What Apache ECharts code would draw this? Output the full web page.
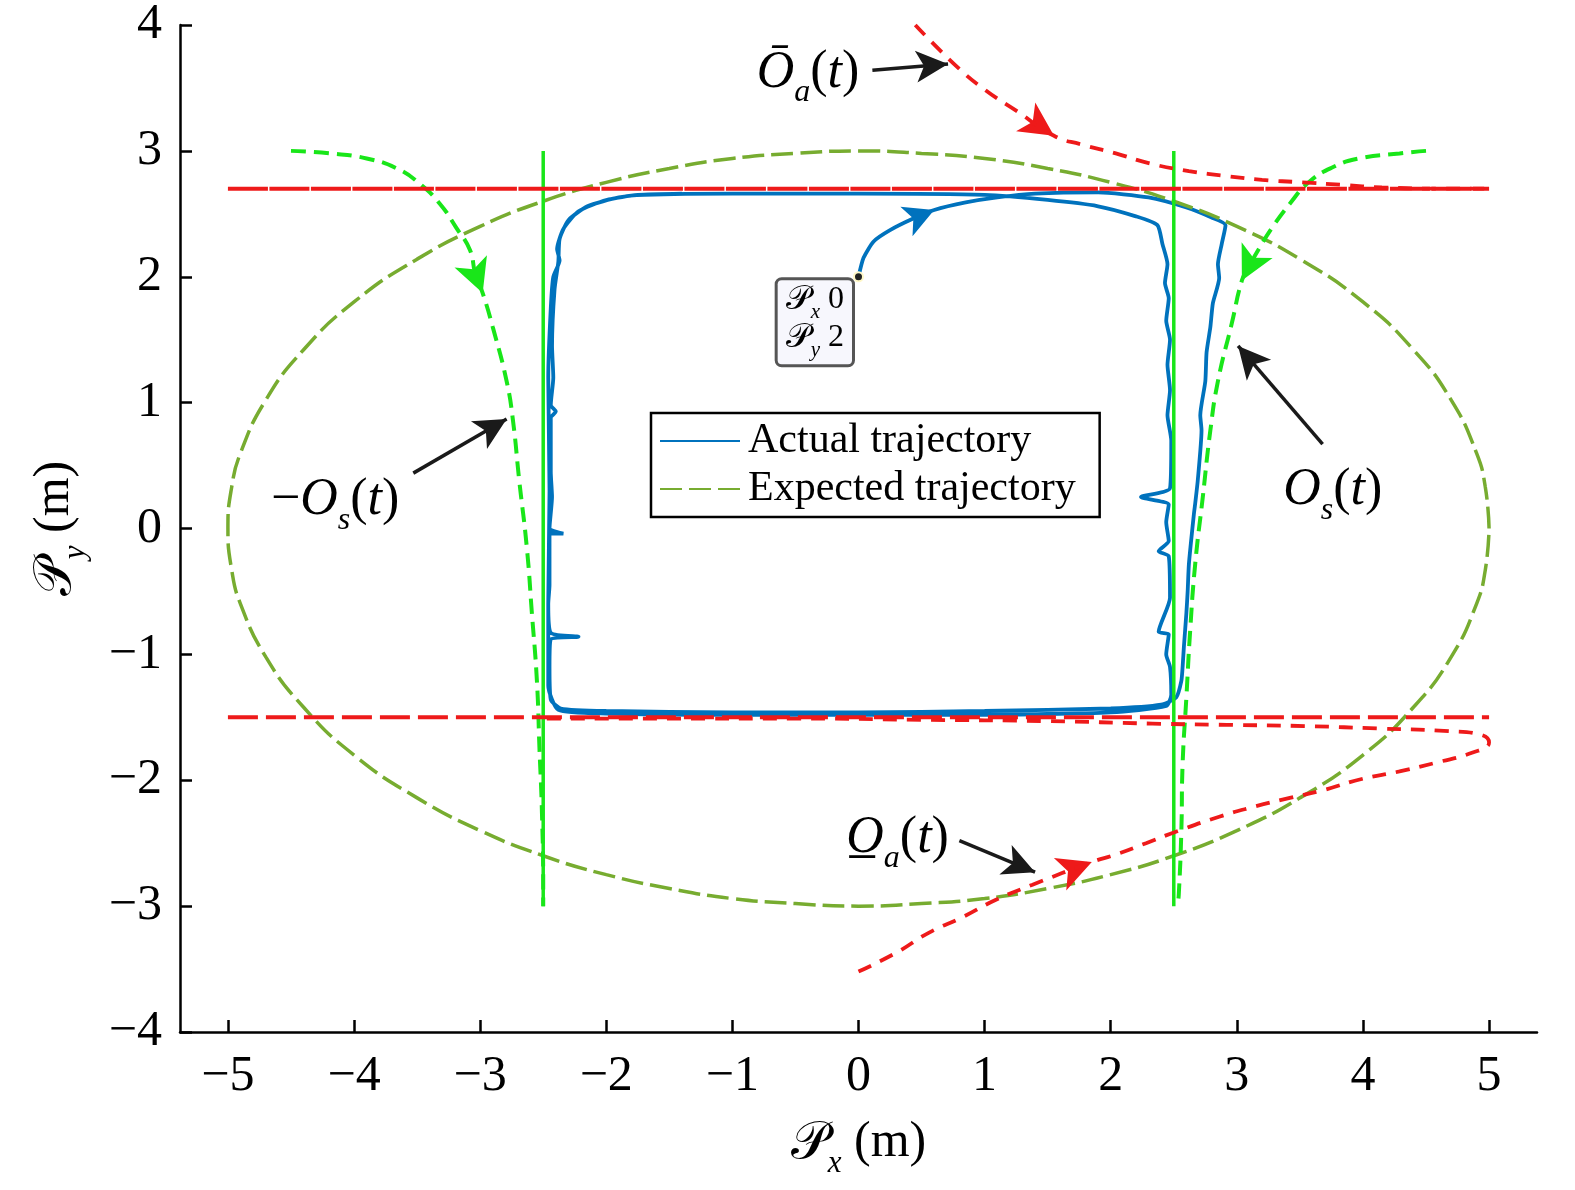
<!DOCTYPE html>
<html>
<head>
<meta charset="utf-8">
<title>Trajectory</title>
<script src="https://cdn.jsdelivr.net/npm/echarts@6/dist/echarts.min.js"></script>
<style>
html, body { margin: 0; padding: 0; background: #fff; }
#container { width: 1575px; height: 1190px; }
</style>
</head>
<body>
<div id="container"></div>
<script>
// tick values
var xTicks = [-5, -4, -3, -2, -1, 0, 1, 2, 3, 4, 5];
var yTicks = [-4, -3, -2, -1, 0, 1, 2, 3, 4];

// expected trajectory (ellipse)
var expected = [
    [5, 0], [4.97, 0.33], [4.9, 0.6], [4.7, 1.02], [4.4, 1.42], [4, 1.8], [3.5, 2.14], [3, 2.4],
    [2.5, 2.6], [2, 2.75], [1.5, 2.86], [1, 2.94], [0.5, 2.98], [0, 3],
    [-0.5, 2.98], [-1, 2.94], [-1.5, 2.86], [-2, 2.75], [-2.5, 2.6], [-3, 2.4], [-3.5, 2.14],
    [-4, 1.8], [-4.4, 1.42], [-4.7, 1.02], [-4.9, 0.6], [-4.97, 0.33], [-5, 0],
    [-4.97, -0.33], [-4.9, -0.6], [-4.7, -1.02], [-4.4, -1.42], [-4, -1.8], [-3.5, -2.14], [-3, -2.4],
    [-2.5, -2.6], [-2, -2.75], [-1.5, -2.86], [-1, -2.94], [-0.5, -2.98], [0, -3],
    [0.5, -2.98], [1, -2.94], [1.5, -2.86], [2, -2.75], [2.5, -2.6], [3, -2.4], [3.5, -2.14],
    [4, -1.8], [4.4, -1.42], [4.7, -1.02], [4.9, -0.6], [4.97, -0.33], [5, 0]
];

// actual trajectory (two laps)
var actual = [
    [0, 2.0], [0.04, 2.15], [0.12, 2.28], [0.25, 2.37], [0.43, 2.46], [0.6, 2.53], [0.85, 2.59], [1.1, 2.63],
    [1.4, 2.66], [1.9, 2.67], [2.3, 2.63], [2.6, 2.55], [2.8, 2.47], [2.91, 2.41],
    [2.88, 2.26], [2.85, 2.1], [2.86, 1.99], [2.81, 1.79], [2.79, 1.6], [2.76, 1.4], [2.75, 1.17], [2.71, 0.9],
    [2.72, 0.78], [2.69, 0.38], [2.67, 0.2], [2.66, 0.12], [2.62, -0.28], [2.61, -0.5], [2.6, -0.67],
    [2.58, -0.94], [2.57, -1.1], [2.56, -1.21], [2.52, -1.34],
    [2.4, -1.4], [2.0, -1.43], [1.0, -1.45], [0, -1.46], [-1.0, -1.46], [-2.0, -1.45], [-2.36, -1.43], [-2.44, -1.36],
    [-2.45, -1.1], [-2.44, -0.88], [-2.22, -0.86], [-2.44, -0.83], [-2.46, -0.6], [-2.45, -0.45], [-2.45, -0.04],
    [-2.34, -0.04], [-2.45, 0.0], [-2.43, 0.25], [-2.44, 0.45], [-2.44, 0.88], [-2.4, 0.93], [-2.44, 0.98],
    [-2.42, 1.2], [-2.43, 1.45], [-2.41, 1.9], [-2.38, 2.12], [-2.37, 2.3], [-2.3, 2.45], [-2.15, 2.56],
    [-1.9, 2.63], [-1.7, 2.65],
    [-1.0, 2.66], [0, 2.66], [1.0, 2.65], [1.5, 2.61], [1.9, 2.56], [2.2, 2.48], [2.37, 2.41],
    [2.41, 2.26], [2.45, 2.1], [2.43, 1.95], [2.46, 1.83], [2.44, 1.65], [2.47, 1.5], [2.45, 1.3], [2.47, 1.1],
    [2.45, 0.9], [2.48, 0.7], [2.47, 0.32], [2.24, 0.25], [2.46, 0.19], [2.44, 0.05], [2.46, -0.1],
    [2.38, -0.18], [2.46, -0.22], [2.47, -0.55], [2.38, -0.82], [2.46, -0.84], [2.44, -1.0], [2.47, -1.1],
    [2.48, -1.32], [2.44, -1.41],
    [2.0, -1.46], [1.0, -1.48], [0, -1.48], [-1.0, -1.48], [-2.0, -1.47], [-2.38, -1.44],
    [-2.46, -1.25], [-2.46, -0.6], [-2.45, 0.3], [-2.46, 1.2], [-2.44, 1.75], [-2.42, 2.0], [-2.37, 2.13],
    [-2.39, 2.22], [-2.34, 2.38], [-2.22, 2.52], [-2.0, 2.61], [-1.75, 2.65], [-1.4, 2.66]
];

// bounds and limits
var boundLeft = [[-2.5, -3], [-2.5, 3]];
var boundRight = [[2.5, -3], [2.5, 3]];
var limitTop = [[-5, 2.7], [5, 2.7]];
var limitBottom = [[-5, -1.5], [5, -1.5]];

// -Os(t) and Os(t)
var obsLeft = [
    [-4.5, 3.0], [-4.19, 2.98], [-3.9, 2.94], [-3.66, 2.86], [-3.48, 2.74], [-3.32, 2.58], [-3.19, 2.39],
    [-3.08, 2.21], [-3.04, 2.03], [-2.98, 1.87], [-2.9, 1.6], [-2.79, 1.17], [-2.74, 0.86], [-2.69, 0.38],
    [-2.63, -0.15], [-2.59, -0.67], [-2.55, -1.21], [-2.53, -1.74], [-2.51, -2.26], [-2.5, -2.87], [-2.5, -3.0]
];
var obsRight = [
    [4.5, 3.0], [4.29, 2.98], [3.97, 2.94], [3.76, 2.87], [3.57, 2.75], [3.42, 2.58], [3.28, 2.39],
    [3.18, 2.23], [3.09, 2.07], [3.04, 1.97], [2.96, 1.63], [2.85, 1.17], [2.79, 0.78], [2.73, 0.25],
    [2.67, -0.28], [2.63, -0.81], [2.6, -1.34], [2.57, -1.87], [2.56, -2.4], [2.54, -2.9], [2.53, -3.0]
];

// upper and lower moving obstacles
var obsUpper = [
    [0.45, 4.0], [0.78, 3.67], [1.01, 3.48], [1.25, 3.32], [1.55, 3.12], [1.77, 3.05], [2.04, 2.98],
    [2.31, 2.9], [2.62, 2.84], [2.92, 2.8], [3.2, 2.77], [3.52, 2.75], [3.84, 2.73], [4.15, 2.71],
    [4.6, 2.7], [5.0, 2.7]
];
var obsLower = [
    [0, -3.52], [0.3, -3.37], [0.56, -3.21], [0.82, -3.09], [1.09, -2.95], [1.38, -2.83], [1.85, -2.65],
    [2.04, -2.59], [2.28, -2.5], [2.54, -2.4], [2.86, -2.29], [3.1, -2.22], [3.42, -2.14], [3.68, -2.08],
    [3.99, -1.99], [4.29, -1.93], [4.58, -1.86], [4.87, -1.78], [5.0, -1.7], [4.94, -1.64], [4.68, -1.61],
    [4.15, -1.59], [3.55, -1.57], [2.92, -1.56], [2.33, -1.55], [1.5, -1.53], [0.5, -1.52], [-0.5, -1.51],
    [-1.5, -1.51], [-2.5, -1.51]
];

// data tip
var tipPoint = [[0, 2]];

// annotations: label text, anchor, arrow start, arrow tip
var noteText = [
    '{it|\u014C}{sub|a}{rm|(}{it|t}{rm|)}',
    '{rm|\u2212}{it|O}{sub|s}{rm|(}{it|t}{rm|)}',
    '{it|O}{sub|s}{rm|(}{it|t}{rm|)}',
    '{it|O\u0332}{sub|a}{rm|(}{it|t}{rm|)}'
];
var noteAt = [[-0.4, 3.62], [-4.15, 0.22], [3.76, 0.3], [0.31, -2.46]];
var noteFrom = [[0.11, 3.64], [-3.53, 0.44], [3.68, 0.67], [0.8, -2.48]];
var noteTo = [[0.71, 3.69], [-2.79, 0.87], [3.01, 1.45], [1.4, -2.73]];

var SERIF = 'Liberation Serif';
var BLUE = '#0072bd', OLIVE = '#77ac30', GREEN = '#19e619', RED = '#ee1a1a';

function fmtTick(v) {
    return v < 0 ? '\u2212' + (-v) : String(v);
}

// arrow head on a curve, tip at pts[i]
function arrowOn(pts, i, color, size) {
    return {
        symbol: ['none', 'arrow'],
        symbolSize: size,
        silent: true,
        animation: false,
        label: { show: false },
        emphasis: { disabled: true },
        lineStyle: { color: color, width: 0, type: 'solid' },
        data: [[{ coord: pts[i - 1] }, { coord: pts[i] }]]
    };
}

var subRich = {
    it: { fontFamily: SERIF, fontStyle: 'italic', fontSize: 52, lineHeight: 52, verticalAlign: 'top', color: '#000' },
    rm: { fontFamily: SERIF, fontSize: 52, lineHeight: 52, verticalAlign: 'top', color: '#000' },
    sub: { fontFamily: SERIF, fontStyle: 'italic', fontSize: 32, lineHeight: 32, padding: [30, 0, 0, 0], verticalAlign: 'top', color: '#000' }
};
var axisRich = {
    p: { fontFamily: SERIF, fontSize: 52, lineHeight: 52, verticalAlign: 'top', color: '#000' },
    sub: { fontFamily: SERIF, fontStyle: 'italic', fontSize: 31, lineHeight: 31, padding: [30, 0, 0, 0], verticalAlign: 'top', color: '#000' },
    rm: { fontFamily: SERIF, fontSize: 50, lineHeight: 52, verticalAlign: 'top', color: '#000' }
};

var myChart = echarts.init(document.getElementById('container'));
option = {
    animation: false,
    backgroundColor: '#fff',
    grid: { left: 180, right: 38, top: 24, bottom: 158 },
    legend: {
        data: ['Actual trajectory', 'Expected trajectory'],
        orient: 'vertical',
        left: 651,
        top: 413,
        itemWidth: 80,
        itemHeight: 14,
        itemGap: 6,
        padding: [7, 24, 7, 8],
        borderColor: '#000',
        borderWidth: 2.5,
        backgroundColor: '#fff',
        selectedMode: false,
        itemStyle: { color: 'rgba(0,0,0,0)', opacity: 0, borderWidth: 0 },
        textStyle: { fontFamily: SERIF, fontSize: 42, color: '#000', padding: [0, 0, 0, 3] }
    },
    xAxis: {
        type: 'value',
        min: -5.38,
        max: 5.38,
        name: '{p|\uD835\uDCAB}{sub|x}{rm| (m)}',
        nameLocation: 'middle',
        nameGap: 86,
        nameTextStyle: { rich: axisRich },
        axisLine: { onZero: false, lineStyle: { color: '#000', width: 2.5 } },
        axisTick: { inside: true, length: 12, customValues: xTicks, lineStyle: { color: '#000', width: 2.5 } },
        axisLabel: { customValues: xTicks, formatter: fmtTick, fontFamily: SERIF, fontSize: 50, color: '#000', margin: 20 },
        splitLine: { show: false }
    },
    yAxis: {
        type: 'value',
        min: -4,
        max: 4,
        interval: 1,
        name: '{p|\uD835\uDCAB}{sub|y}{rm| (m)}',
        nameLocation: 'middle',
        nameGap: 98,
        nameTextStyle: { rich: axisRich },
        axisLine: { onZero: false, lineStyle: { color: '#000', width: 2.5 } },
        axisTick: { inside: true, length: 12, customValues: yTicks, lineStyle: { color: '#000', width: 2.5 } },
        axisLabel: { customValues: yTicks, formatter: fmtTick, fontFamily: SERIF, fontSize: 50, color: '#000', margin: 18 },
        splitLine: { show: false }
    },
    series: [
        {
            name: 'Actual trajectory',
            type: 'line',
            data: actual,
            symbol: 'none',
            smooth: 0.2,
            z: 2,
            lineStyle: { color: BLUE, width: 3.8 },
            itemStyle: { color: BLUE },
            markLine: arrowOn(actual, 5, BLUE, [24, 30])
        },
        {
            name: 'Expected trajectory',
            type: 'line',
            data: expected,
            symbol: 'none',
            smooth: true,
            z: 3,
            lineStyle: { color: OLIVE, width: 3.5, type: [22, 7] },
            itemStyle: { color: OLIVE }
        },
        {
            name: '-Os',
            type: 'line',
            data: obsLeft,
            symbol: 'none',
            smooth: true,
            z: 4,
            lineStyle: { color: GREEN, width: 4, type: [15, 8] },
            markLine: arrowOn(obsLeft, 9, GREEN, [26, 34])
        },
        {
            name: 'Os',
            type: 'line',
            data: obsRight,
            symbol: 'none',
            smooth: true,
            z: 4,
            lineStyle: { color: GREEN, width: 4, type: [15, 8] },
            markLine: arrowOn(obsRight, 9, GREEN, [26, 34])
        },
        {
            name: 'boundLeft',
            type: 'line',
            data: boundLeft,
            symbol: 'none',
            z: 5,
            lineStyle: { color: GREEN, width: 3.5 }
        },
        {
            name: 'boundRight',
            type: 'line',
            data: boundRight,
            symbol: 'none',
            z: 5,
            lineStyle: { color: GREEN, width: 3.5 }
        },
        {
            name: 'limitTop',
            type: 'line',
            data: limitTop,
            symbol: 'none',
            z: 6,
            lineStyle: { color: RED, width: 4, type: [40, 1.5] }
        },
        {
            name: 'limitBottom',
            type: 'line',
            data: limitBottom,
            symbol: 'none',
            z: 6,
            lineStyle: { color: RED, width: 4, type: [30, 8] }
        },
        {
            name: 'Oa upper',
            type: 'line',
            data: obsUpper,
            symbol: 'none',
            smooth: true,
            z: 6,
            lineStyle: { color: RED, width: 3.8, type: [14, 10] },
            markLine: arrowOn(obsUpper, 4, RED, [26, 34])
        },
        {
            name: 'Oa lower',
            type: 'line',
            data: obsLower,
            symbol: 'none',
            smooth: true,
            z: 6,
            lineStyle: { color: RED, width: 3.8, type: [14, 10] },
            markLine: arrowOn(obsLower, 6, RED, [26, 34])
        },
        {
            name: 'tip',
            type: 'scatter',
            data: tipPoint,
            symbol: 'circle',
            symbolSize: 9,
            z: 10,
            itemStyle: { color: '#222', borderColor: '#fff8c8', borderWidth: 2, opacity: 1 },
            label: {
                show: true,
                position: [-1, 9],
                align: 'right',
                verticalAlign: 'top',
                backgroundColor: '#f7f7fd',
                borderColor: '#555',
                borderWidth: 3,
                borderRadius: 4,
                padding: [3, 8, 5, 8],
                formatter: function (p) {
                    return '{p|\uD835\uDCAB}{s|x}{v| ' + p.value[0] + '}\n{p|\uD835\uDCAB}{s|y}{v| ' + p.value[1] + '}';
                },
                rich: {
                    p: { fontFamily: SERIF, fontSize: 34, lineHeight: 38, verticalAlign: 'top', color: '#000' },
                    s: { fontFamily: SERIF, fontStyle: 'italic', fontSize: 21, lineHeight: 21, padding: [19, 0, 0, 0], verticalAlign: 'top', color: '#000' },
                    v: { fontFamily: SERIF, fontSize: 32, lineHeight: 38, verticalAlign: 'top', color: '#000' }
                }
            }
        },
        {
            name: 'notes',
            type: 'scatter',
            data: noteAt,
            symbolSize: 0,
            z: 11,
            silent: true,
            itemStyle: { opacity: 1 },
            label: {
                show: true,
                position: 'inside',
                formatter: function (p) { return noteText[p.dataIndex]; },
                rich: subRich
            },
            markLine: {
                symbol: ['none', 'arrow'],
                symbolSize: [24, 32],
                silent: true,
                animation: false,
                label: { show: false },
                emphasis: { disabled: true },
                lineStyle: { color: '#1a1a1a', width: 3.5, type: 'solid' },
                data: noteFrom.map(function (a, i) { return [{ coord: a }, { coord: noteTo[i] }]; })
            }
        }
    ]
};
myChart.setOption(option);
</script>
</body>
</html>
